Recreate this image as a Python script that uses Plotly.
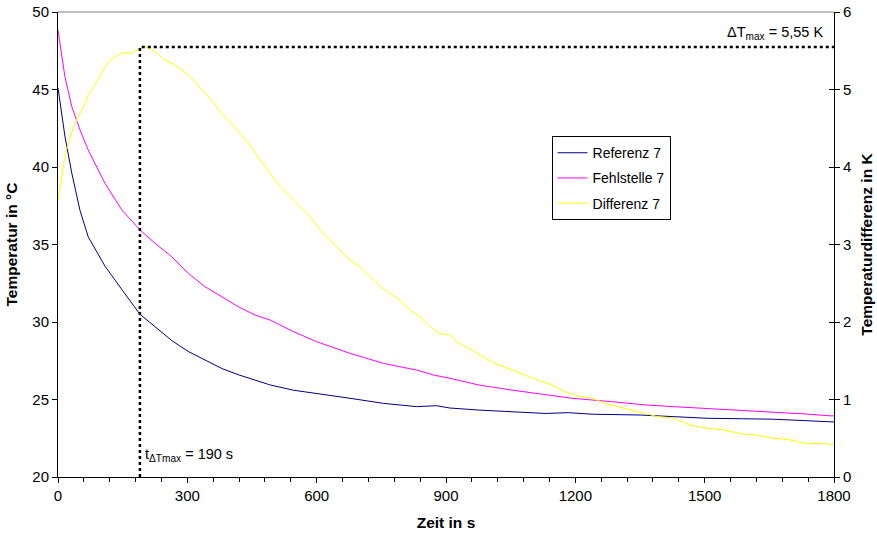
import plotly.graph_objects as go

# ---- data ----
t_ref = [0, 16, 32, 51, 70, 109, 148, 190, 225, 264, 302, 341, 380, 418, 457,
         492, 546, 600, 677, 755, 832, 878, 909, 975, 1052, 1130, 1184, 1240,
         1350, 1505, 1659, 1795, 1800]
T_ref = [45.1, 42.0, 39.6, 37.2, 35.5, 33.6, 32.1, 30.5, 29.7, 28.8, 28.1, 27.55, 27.0, 26.6, 26.26,
         25.94, 25.6, 25.4, 25.08, 24.75, 24.54, 24.6, 24.45, 24.32, 24.2, 24.1, 24.15, 24.05,
         24.0, 23.79, 23.73, 23.53, 23.55]

t_fehl = [0, 16, 32, 51, 70, 109, 148, 190, 225, 264, 302, 341, 380, 418, 457,
          492, 546, 600, 677, 755, 832, 871, 909, 975, 1052, 1130, 1192, 1284, 1362,
          1427, 1505, 1582, 1659, 1737, 1795, 1800]
T_fehl = [48.84, 45.83, 43.89, 42.39, 41.1, 38.95, 37.23, 35.94, 35.08, 34.21, 33.14, 32.28, 31.63, 30.99, 30.45,
          30.13, 29.38, 28.73, 27.98, 27.33, 26.9, 26.58, 26.37, 25.94, 25.61, 25.29, 25.08, 24.86, 24.65,
          24.54, 24.43, 24.32, 24.21, 24.06, 23.94, 23.95]

t_diff = [0, 8, 16, 24, 36, 47, 63, 70, 86, 101, 117, 132, 148, 171, 190, 206, 225, 248, 271,
          302, 326, 357, 380, 403, 426, 449, 469, 492, 515, 538, 561, 585, 608, 631, 654,
          677, 701, 724, 747, 770, 793, 817, 840, 863, 886, 909, 929, 960, 991, 1021,
          1052, 1083, 1114, 1145, 1176, 1207, 1238, 1269, 1300, 1331, 1362, 1389, 1427,
          1466, 1505, 1543, 1582, 1621, 1659, 1698, 1737, 1775, 1800]
D_diff = [3.57, 3.83, 4.13, 4.31, 4.52, 4.65, 4.82, 4.93, 5.06, 5.21, 5.36, 5.42, 5.47, 5.47, 5.53, 5.55, 5.49, 5.38, 5.32,
          5.19, 5.04, 4.86, 4.69, 4.56, 4.41, 4.26, 4.09, 3.92, 3.75, 3.62, 3.49, 3.36, 3.19, 3.06, 2.93,
          2.80, 2.71, 2.58, 2.46, 2.37, 2.28, 2.15, 2.07, 1.94, 1.85, 1.83, 1.73, 1.64, 1.53, 1.45,
          1.38, 1.32, 1.25, 1.19, 1.10, 1.04, 1.02, 0.95, 0.91, 0.86, 0.82, 0.78, 0.76,
          0.67, 0.63, 0.61, 0.56, 0.54, 0.50, 0.48, 0.43, 0.43, 0.42]

t_max = 190
dT_max = 5.55
x_ticks = [0, 300, 600, 900, 1200, 1500, 1800]

FONT = "Liberation Sans, Arial, sans-serif"

fig = go.Figure()
fig.add_trace(go.Scatter(x=t_ref, y=T_ref, mode="lines", name="Referenz 7", legendgroup="a",
                         line=dict(color="#000080", width=1)))
fig.add_trace(go.Scatter(x=t_fehl, y=T_fehl, mode="lines", name="Fehlstelle 7", legendgroup="b",
                         line=dict(color="#FF00FF", width=1)))
fig.add_trace(go.Scatter(x=t_diff, y=D_diff, mode="lines", name="Differenz 7", yaxis="y2",
                         legendgroup="c", line=dict(color="#FFFF00", width=1)))
# dotted marker lines for the maximum
fig.add_trace(go.Scatter(x=[t_max, t_max, x_ticks[-1]], y=[0, dT_max, dT_max], mode="lines",
                         yaxis="y2", showlegend=False, hoverinfo="skip",
                         line=dict(color="black", width=2.5, dash="3px,3px")))
# invisible helper trace for the crossing ticks on the right axis
fig.add_trace(go.Scatter(x=[None], y=[None], yaxis="y3", showlegend=False))

fig.update_layout(
    width=877, height=534,
    margin=dict(l=58, r=43, t=12, b=57),
    paper_bgcolor="white", plot_bgcolor="white",
    font=dict(family=FONT, size=14, color="black"),
    showlegend=True,
    legend=dict(x=0.636, y=0.733, xanchor="left", yanchor="top",
                bordercolor="black", borderwidth=1, bgcolor="white",
                tracegroupgap=4, itemwidth=30,
                font=dict(family=FONT, size=14)),
    xaxis=dict(range=[0, 1800], tickvals=x_ticks, ticks="outside", ticklen=5, tickcolor="black",
               showline=True, linecolor="black", linewidth=1, showgrid=False, zeroline=False,
               tickfont=dict(size=15), automargin=False,
               minor=dict(dtick=60, ticks="outside", ticklen=4, tickcolor="black"),
               title=dict(text="<b>Zeit in s</b>", font=dict(size=15.5), standoff=14)),
    yaxis=dict(range=[20, 50], dtick=5, ticks="outside", ticklen=5, tickcolor="black",
               showline=True, linecolor="black", linewidth=1, showgrid=False, zeroline=False,
               tickfont=dict(size=15), automargin=False),
    yaxis2=dict(range=[0, 6], dtick=1, overlaying="y", side="right", ticks="outside", ticklen=5,
                tickcolor="black", showline=True, linecolor="black", linewidth=1,
                showgrid=False, zeroline=False, tickfont=dict(size=15), automargin=False,
                title=dict(text="<b>Temperaturdifferenz in K</b>", font=dict(size=15.5), standoff=10)),
    yaxis3=dict(range=[0, 6], dtick=1, overlaying="y", side="right", ticks="inside", ticklen=5,
                tickcolor="black", showticklabels=False, showline=False, showgrid=False,
                zeroline=False, automargin=False),
    shapes=[dict(type="line", xref="paper", yref="paper", x0=0, x1=1, y0=1, y1=1,
                 line=dict(color="#808080", width=1))],
    annotations=[
        dict(text="<b>Temperatur in °C</b>", xref="paper", yref="paper", x=-0.0593, y=0.5,
             xanchor="center", yanchor="middle", textangle=-90, showarrow=False,
             font=dict(size=15.5)),
        dict(text="ΔT<sub>max</sub> = 5,55 K", xref="x", yref="y2", x=1778, y=5.73,
             xanchor="right", yanchor="middle", showarrow=False, font=dict(size=14.5)),
        dict(text="t<sub>ΔTmax</sub> = 190 s", xref="x", yref="y", x=t_max + 7, y=21.45,
             xanchor="left", yanchor="middle", showarrow=False, font=dict(size=14.5)),
    ],
)

fig.write_html("out.html", config={"displayModeBar": False},
               post_script="document.body.style.margin='0px';")
